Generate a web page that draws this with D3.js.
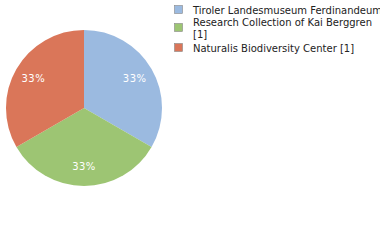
<!DOCTYPE html>
<html><head><meta charset="utf-8">
<script src="https://cdn.jsdelivr.net/npm/d3@7"></script>
<style>body{margin:0;background:#fff;overflow:hidden}</style>
</head><body>
<script>
const categories = ["Tiroler Landesmuseum Ferdinandeum [1]", "Research Collection of Kai Berggren [1]", "Naturalis Biodiversity Center [1]"];
const legendLines = [["Tiroler Landesmuseum Ferdinandeum [1]"], ["Research Collection of Kai Berggren", "[1]"], ["Naturalis Biodiversity Center [1]"]];
const values = [1, 1, 1];
const colors = ["#9bbae0", "#9dc573", "#da7659"];

const svg = d3.select("body").append("svg").attr("width", 380).attr("height", 240);
const cx = 84, cy = 108, r = 78;
const pie = d3.pie().sort(null).value(d => d);
const arcs = pie(values);
const arc = d3.arc().innerRadius(0).outerRadius(r);
const labelArc = d3.arc().innerRadius(r * 0.75).outerRadius(r * 0.75);
const total = d3.sum(values);
const g = svg.append("g").attr("transform", `translate(${cx},${cy})`);
g.selectAll("path").data(arcs).join("path").attr("d", arc).attr("fill", (d, i) => colors[i]);
g.selectAll("text").data(arcs).join("text")
  .attr("transform", d => `translate(${labelArc.centroid(d)})`)
  .attr("text-anchor", "middle").attr("dy", "0.35em")
  .attr("fill", "#fff").attr("font-family", "DejaVu Sans").attr("font-size", 10).attr("letter-spacing", 0.5)
  .text(d => Math.round(d.value / total * 100) + "%");

const leg = svg.append("g").attr("font-family", "DejaVu Sans").attr("font-size", 10).attr("fill", "#222");
const rowY = [10, 28, 48];
legendLines.forEach((lines, i) => {
  leg.append("rect").attr("x", 174.5).attr("y", rowY[i] - 4.5).attr("width", 8).attr("height", 8)
    .attr("fill", colors[i]).attr("stroke", "#888").attr("stroke-width", 0.6);
  lines.forEach((t, j) => {
    leg.append("text").attr("x", 193).attr("y", (lines.length === 1 ? rowY[i] : rowY[i] - 6 + j * 12)).attr("dy", "0.35em").text(t);
  });
});
</script>
</body></html>
